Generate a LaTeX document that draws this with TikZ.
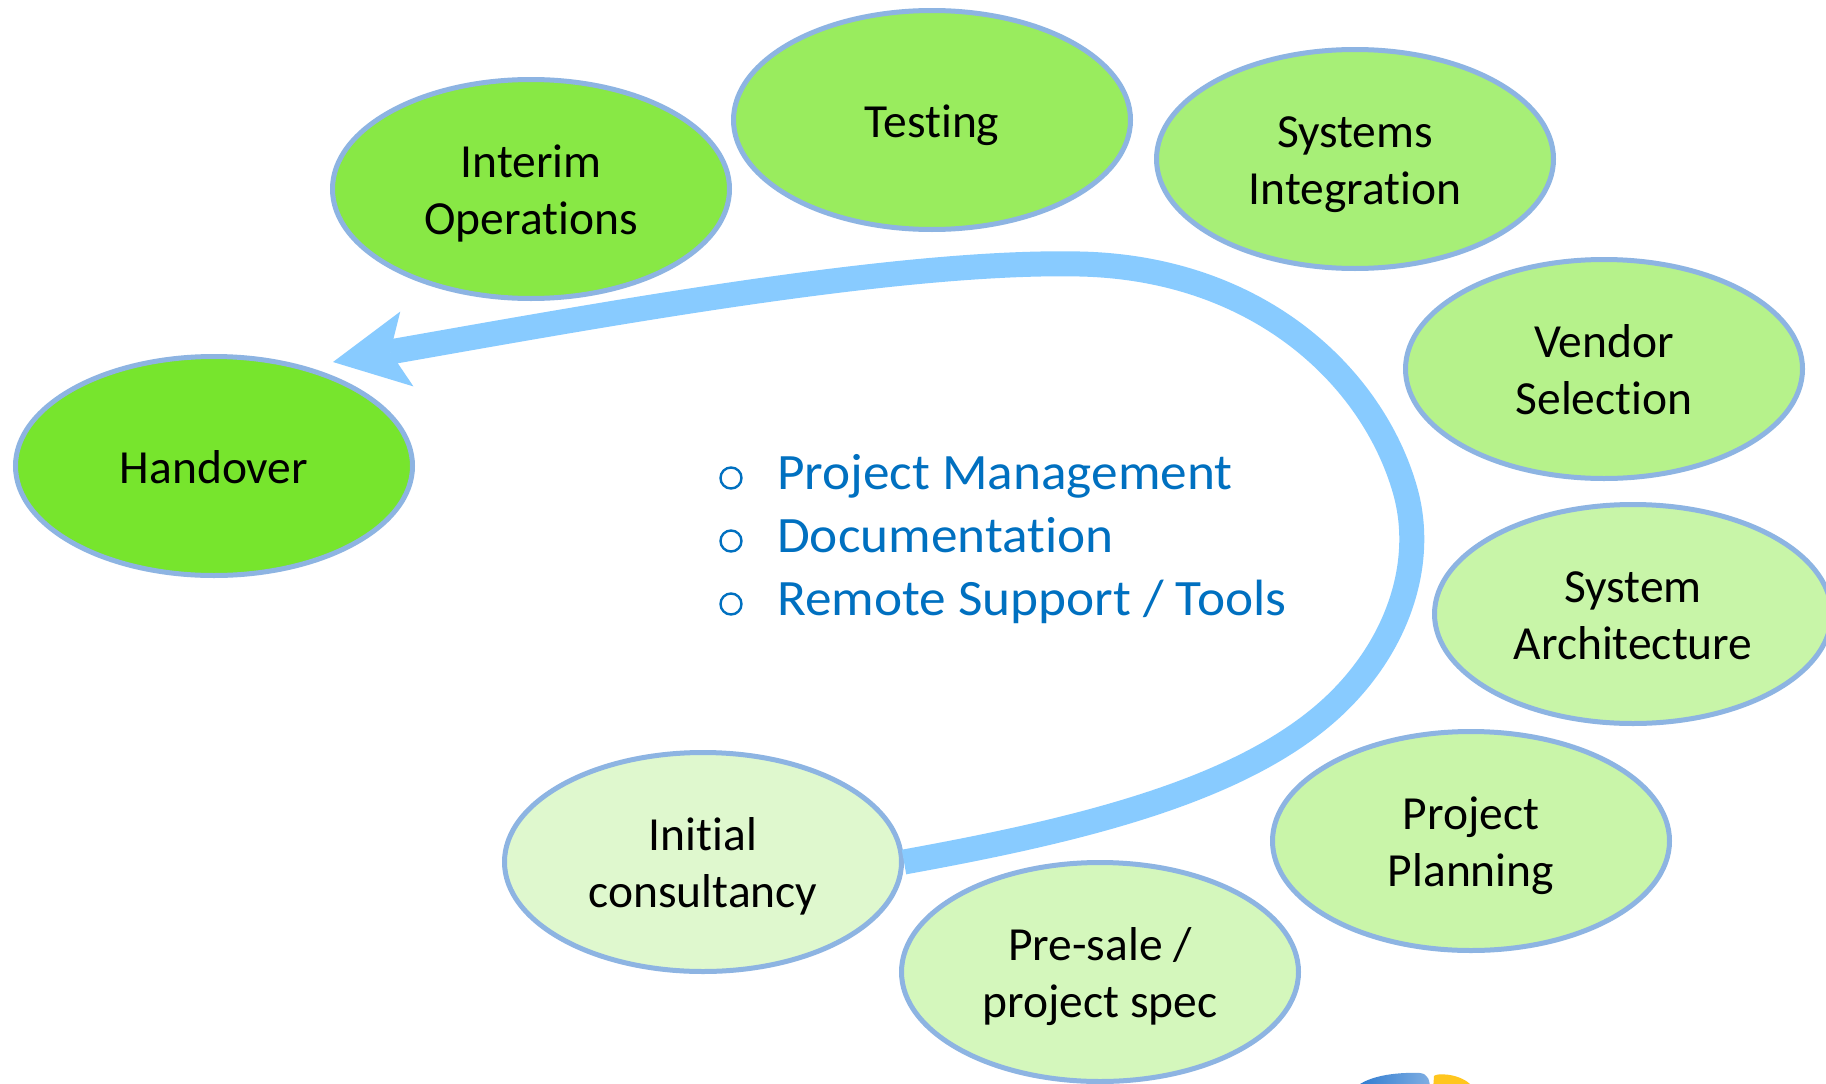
\documentclass[tikz,border=0pt]{standalone}
\usepackage{fontspec}
\setmainfont{Carlito}[Ligatures=NoCommon]
\newfontfamily\bluefont{Carlito}[Ligatures=NoCommon,FakeStretch=1.045]
\usetikzlibrary{shapes.geometric,arrows.meta}
\definecolor{edgeblue}{HTML}{8DB4E2}
\definecolor{flowblue}{HTML}{88CBFF}
\definecolor{textblue}{HTML}{0070C0}
\definecolor{gA}{HTML}{77E52D}
\definecolor{gB}{HTML}{88E845}
\definecolor{gC}{HTML}{99EC5E}
\definecolor{gD}{HTML}{A7EF77}
\definecolor{gE}{HTML}{B6F28B}
\definecolor{gF}{HTML}{C8F5A8}
\definecolor{gG}{HTML}{C9F5A9}
\definecolor{gH}{HTML}{D4F7BC}
\definecolor{gI}{HTML}{DFF8CE}
\definecolor{logoblue}{HTML}{2A78CF}
\definecolor{logoyellow}{HTML}{FFC61E}
\newcommand{\phtext}[1]{\raisebox{0pt}[\dimexpr\height+11pt\relax][\depth]{\begin{tabular}{@{}c@{}}#1\end{tabular}}}
\tikzset{
  phase/.style={ellipse, draw=edgeblue, line width=5pt, minimum width=397pt,
    minimum height=219pt, inner sep=0pt,
    font=\fontsize{47.5}{57.5}\selectfont, text=black},
  flow/.style={draw=flowblue, line width=25pt,
    -{Stealth[length=75pt,width=76pt,inset=17pt,line width=0pt]}},
  bulletdot/.style={circle, draw=textblue, line width=2.4pt, minimum size=21pt, inner sep=0pt},
  bullettext/.style={anchor=base west, inner sep=0pt, text=textblue,
    font=\bluefont\fontsize{51}{60}\selectfont}
}
\begin{document}
\begin{tikzpicture}[x=1pt,y=-1pt]
\useasboundingbox (0,0) rectangle (1826,1084);
\clip (0,0) rectangle (1826,1084);
\fill[white] (0,0) rectangle (1826,1084);

\node[phase, fill=gI] (init) at (703,862) {\phtext{Initial\\consultancy}};
\node[phase, fill=gH] (presale) at (1100,972) {\phtext{Pre-sale /\\project spec}};
\node[phase, fill=gG] (plan) at (1471,841) {\phtext{Project\\Planning}};
\node[phase, fill=gF] (arch) at (1633,614) {\phtext{System\\Architecture}};
\node[phase, fill=gE] (vendor) at (1604,369) {\phtext{Vendor\\Selection}};
\node[phase, fill=gD] (sysint) at (1355,159) {\phtext{Systems\\Integration}};
\node[phase, fill=gC] (test) at (932,120) {\phtext{Testing}};
\node[phase, fill=gB] (interim) at (531,189) {\phtext{Interim\\Operations}};
\node[phase, fill=gA] (hand) at (214,466) {\phtext{Handover}};

\coordinate (tip) at (333,362);
\draw[flow] (init.east) .. controls (1080,830) and (1250,790) .. (1340,700)
  .. controls (1400,640) and (1425,560) .. (1405,490)
  .. controls (1373,378) and (1260,268) .. (1080,264)
  .. controls (900,260) and (600,315) .. (tip);

\node[bulletdot] (b1) at (731,478) {};
\node[bulletdot] (b2) at (731,541) {};
\node[bulletdot] (b3) at (731,604) {};
\node[bullettext] (t1) at (777,489) {Project Management};
\node[bullettext] (t2) at (777,552) {Documentation};
\node[bullettext] (t3) at (777,615) {Remote Support / Tools};

\shade[left color=logoblue, right color=logoblue!60!white]
  (1353,1090) .. controls (1365,1076) and (1395,1072) .. (1420,1073)
  .. controls (1428,1074) and (1430,1080) .. (1430,1090) -- cycle;
\fill[logoyellow] (1433,1090) -- (1434,1076) .. controls (1436,1073) and (1458,1073) .. (1470,1084) -- (1472,1090) -- cycle;
\end{tikzpicture}
\end{document}
